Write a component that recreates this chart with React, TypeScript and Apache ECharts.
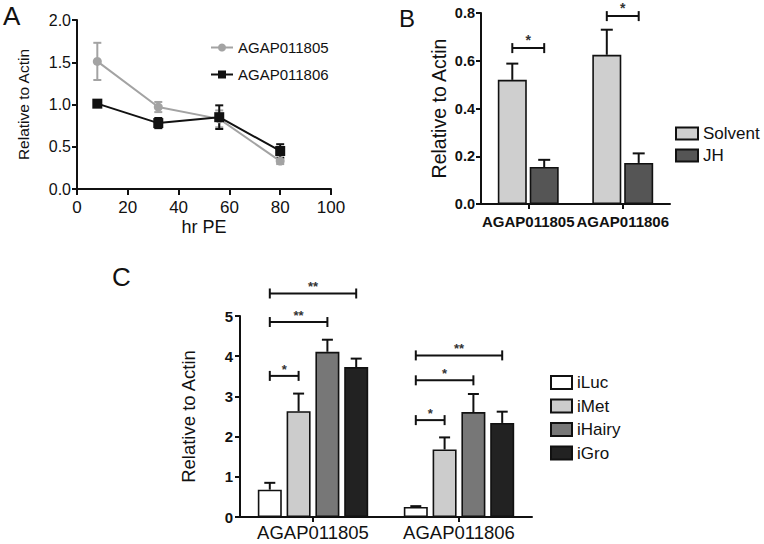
import React, { useEffect, useRef } from 'react';
import * as echarts from 'echarts';

const FONT = '"Liberation Sans", Arial, Helvetica, sans-serif';
const INK = '#111111';

// ---------- Panel A : time course ----------
const A_HOURS = [8, 32, 56, 80];
const A_805 = [1.51, 0.97, 0.83, 0.33];
const A_805_ERR = [0.22, 0.06, 0.1, 0.035];
const A_806 = [1.01, 0.78, 0.85, 0.45];
const A_806_ERR = [0.02, 0.06, 0.14, 0.08];
const A_NAMES = ['AGAP011805', 'AGAP011806'];

// ---------- Panel B : solvent vs JH ----------
const B_GENES = ['AGAP011805', 'AGAP011806'];
const B_SOLVENT = [0.52, 0.625];
const B_SOLVENT_ERR = [0.068, 0.105];
const B_JH = [0.155, 0.172];
const B_JH_ERR = [0.03, 0.04];
const B_SIG: number[][] = [
  [0, 0, 1, 0.653],
  [1, 0, 1, 0.787],
];
const B_SIG_LABELS = ['*', '*'];

// ---------- Panel C : RNAi ----------
const C_GENES = ['AGAP011805', 'AGAP011806'];
const C_ILUC = [0.68, 0.25];
const C_ILUC_ERR = [0.17, 0.02];
const C_IMET = [2.63, 1.68];
const C_IMET_ERR = [0.44, 0.3];
const C_IHAIRY = [4.11, 2.61];
const C_IHAIRY_ERR = [0.3, 0.45];
const C_IGRO = [3.73, 2.34];
const C_IGRO_ERR = [0.21, 0.28];
const C_SIG: number[][] = [
  [0, 0, 1, 3.51],
  [0, 0, 2, 4.85],
  [0, 0, 3, 5.56],
  [1, 0, 1, 2.41],
  [1, 0, 2, 3.4],
  [1, 0, 3, 4.02],
];
const C_SIG_LABELS = ['*', '**', '**', '*', '*', '**'];

const B_BAR_W = 29;
const B_GAP = 0.1;
const C_BAR_W = 24;
const C_GAP = 0.2;

function ln(x1: number, y1: number, x2: number, y2: number, color: string, w = 2) {
  return { type: 'line', shape: { x1, y1, x2, y2 }, style: { stroke: color, lineWidth: w } };
}

function barErrRender(n: number, w: number, gap: number, cap: number) {
  return (params: any, api: any) => {
    const cat = api.value(0);
    const bi = api.value(1);
    const m = api.value(2);
    const e = api.value(3);
    const p0 = api.coord([cat, m]);
    const p1 = api.coord([cat, m + e]);
    const x = p0[0] + (bi - (n - 1) / 2) * w * (1 + gap);
    return {
      type: 'group',
      children: [ln(x, p0[1], x, p1[1], INK), ln(x - cap / 2, p1[1], x + cap / 2, p1[1], INK)],
    };
  };
}

function sigRender(n: number, w: number, gap: number, labels: string[], fontSize: number, lift: number) {
  return (params: any, api: any) => {
    const cat = api.value(0);
    const f = api.value(1);
    const t = api.value(2);
    const y = api.value(3);
    const p = api.coord([cat, y]);
    const step = w * (1 + gap);
    const x1 = p[0] + (f - (n - 1) / 2) * step;
    const x2 = p[0] + (t - (n - 1) / 2) * step;
    const yy = p[1];
    return {
      type: 'group',
      children: [
        ln(x1, yy, x2, yy, INK),
        ln(x1, yy - 5, x1, yy + 5, INK),
        ln(x2, yy - 5, x2, yy + 5, INK),
        {
          type: 'text',
          x: (x1 + x2) / 2,
          y: yy - lift,
          style: {
            text: labels[params.dataIndex],
            fill: '#333',
            font: `bold ${fontSize}px ${FONT}`,
            align: 'center',
            verticalAlign: 'bottom',
          },
        },
      ],
    };
  };
}

function errData(list: number[][][]) {
  const out: number[][] = [];
  list.forEach(([vals, errs], bi) => {
    vals.forEach((v, ci) => out.push([ci, bi, v, errs[ci]]));
  });
  return out;
}

export default function App() {
  const ref = useRef<HTMLDivElement>(null);

  useEffect(() => {
    if (!ref.current) return;
    const chart = echarts.init(ref.current, undefined, { renderer: 'svg' });

    const axisLineStyle = { lineStyle: { color: INK, width: 2 } };
    const tickStyle = { lineStyle: { color: INK, width: 2 } };

    const aLine = (vals: number[]) => A_HOURS.map((h, i) => [h, vals[i]]);
    const aErr: number[][] = [];
    A_HOURS.forEach((h, i) => aErr.push([h, A_805[i], A_805_ERR[i], 0]));
    A_HOURS.forEach((h, i) => aErr.push([h, A_806[i], A_806_ERR[i], 1]));
    const A_COLORS = ['#a3a3a3', '#111111'];

    const option: any = {
      animation: false,
      textStyle: { fontFamily: FONT, color: INK },
      grid: [
        { left: 77, top: 20, width: 254, height: 169 },
        { left: 481, top: 13, width: 189, height: 191 },
        { left: 240, top: 316, width: 292, height: 201 },
      ],
      xAxis: [
        {
          gridIndex: 0,
          type: 'value',
          min: 0,
          max: 100,
          interval: 20,
          name: 'hr PE',
          nameLocation: 'middle',
          nameGap: 29,
          nameTextStyle: { fontSize: 18, color: INK, fontFamily: FONT },
          axisLine: { show: true, ...axisLineStyle },
          axisTick: { show: true, length: 6, ...tickStyle },
          axisLabel: { fontSize: 17, color: INK, margin: 10, fontFamily: FONT },
          splitLine: { show: false },
        },
        {
          gridIndex: 1,
          type: 'category',
          data: B_GENES,
          axisLine: { show: true, ...axisLineStyle },
          axisTick: { show: true, alignWithLabel: true, length: 5, ...tickStyle },
          axisLabel: { fontSize: 15, fontWeight: 'bold', color: INK, margin: 10, interval: 0, fontFamily: FONT },
        },
        {
          gridIndex: 2,
          type: 'category',
          data: C_GENES,
          axisLine: { show: true, ...axisLineStyle },
          axisTick: { show: true, alignWithLabel: true, length: 5, ...tickStyle },
          axisLabel: { fontSize: 18.5, color: INK, margin: 6, interval: 0, fontFamily: FONT },
        },
      ],
      yAxis: [
        {
          gridIndex: 0,
          type: 'value',
          min: 0,
          max: 2,
          interval: 0.5,
          name: 'Relative to Actin',
          nameLocation: 'middle',
          nameGap: 46,
          nameTextStyle: { fontSize: 15.5, color: INK, fontFamily: FONT },
          axisLine: { show: true, ...axisLineStyle },
          axisTick: { show: true, length: 5, ...tickStyle },
          axisLabel: { fontSize: 16, color: INK, margin: 6, formatter: (v: number) => v.toFixed(1), fontFamily: FONT },
          splitLine: { show: false },
        },
        {
          gridIndex: 1,
          type: 'value',
          min: 0,
          max: 0.8,
          interval: 0.2,
          name: 'Relative to Actin',
          nameLocation: 'middle',
          nameGap: 32,
          nameTextStyle: { fontSize: 19.5, color: INK, fontFamily: FONT },
          axisLine: { show: true, ...axisLineStyle },
          axisTick: { show: true, length: 5, ...tickStyle },
          axisLabel: {
            fontSize: 14.5,
            fontWeight: 'bold',
            color: INK,
            margin: 6,
            formatter: (v: number) => v.toFixed(1),
            fontFamily: FONT,
          },
          splitLine: { show: false },
        },
        {
          gridIndex: 2,
          type: 'value',
          min: 0,
          max: 5,
          interval: 1,
          name: 'Relative to Actin',
          nameLocation: 'middle',
          nameGap: 42,
          nameTextStyle: { fontSize: 18.5, color: INK, fontFamily: FONT },
          axisLine: { show: true, ...axisLineStyle },
          axisTick: { show: true, length: 5, ...tickStyle },
          axisLabel: { fontSize: 15, fontWeight: 'bold', color: INK, margin: 7, fontFamily: FONT },
          splitLine: { show: false },
        },
      ],
      legend: [
        {
          data: A_NAMES,
          orient: 'vertical',
          left: 210,
          top: 40,
          padding: 0,
          itemWidth: 22,
          itemHeight: 10,
          itemGap: 12,
          itemTextGap: 6,
          textStyle: { fontSize: 15, color: INK, fontFamily: FONT },
        },
        {
          data: ['Solvent', 'JH'],
          orient: 'vertical',
          left: 675,
          top: 125,
          padding: 0,
          icon: 'rect',
          itemWidth: 22,
          itemHeight: 12,
          itemGap: 5,
          itemTextGap: 9,
          textStyle: { fontSize: 17, color: INK, fontFamily: FONT },
        },
        {
          data: ['iLuc', 'iMet', 'iHairy', 'iGro'],
          orient: 'vertical',
          left: 550,
          top: 374,
          padding: 0,
          icon: 'rect',
          itemWidth: 21,
          itemHeight: 13,
          itemGap: 6.5,
          itemTextGap: 9,
          textStyle: { fontSize: 17, color: INK, fontFamily: FONT },
        },
      ],
      graphic: [
        { type: 'text', x: 3, y: 3, style: { text: 'A', font: `26px ${FONT}`, fill: INK } },
        { type: 'text', x: 399, y: 6, style: { text: 'B', font: `24px ${FONT}`, fill: INK } },
        { type: 'text', x: 112, y: 264, style: { text: 'C', font: `26px ${FONT}`, fill: INK } },
      ],
      series: [
        {
          name: A_NAMES[0],
          type: 'line',
          xAxisIndex: 0,
          yAxisIndex: 0,
          data: aLine(A_805),
          symbol: 'circle',
          symbolSize: 9,
          lineStyle: { color: A_COLORS[0], width: 2 },
          itemStyle: { color: A_COLORS[0] },
          z: 3,
        },
        {
          name: A_NAMES[1],
          type: 'line',
          xAxisIndex: 0,
          yAxisIndex: 0,
          data: aLine(A_806),
          symbol: 'rect',
          symbolSize: 10,
          lineStyle: { color: A_COLORS[1], width: 2 },
          itemStyle: { color: A_COLORS[1] },
          z: 4,
        },
        {
          name: 'A error',
          type: 'custom',
          xAxisIndex: 0,
          yAxisIndex: 0,
          clip: false,
          z: 2,
          encode: { x: 0, y: 1 },
          data: aErr,
          renderItem: (params: any, api: any) => {
            const x = api.value(0);
            const m = api.value(1);
            const e = api.value(2);
            const s = api.value(3);
            const c = A_COLORS[s];
            const top = api.coord([x, m + e]);
            const bot = api.coord([x, m - e]);
            const cap = 8;
            return {
              type: 'group',
              children: [
                ln(top[0], top[1], bot[0], bot[1], c),
                ln(top[0] - cap / 2, top[1], top[0] + cap / 2, top[1], c),
                ln(bot[0] - cap / 2, bot[1], bot[0] + cap / 2, bot[1], c),
              ],
            };
          },
        },
        {
          name: 'Solvent',
          type: 'bar',
          xAxisIndex: 1,
          yAxisIndex: 1,
          data: B_SOLVENT,
          barWidth: B_BAR_W,
          barGap: `${B_GAP * 100}%`,
          itemStyle: { color: '#cfcfcf', borderColor: INK, borderWidth: 1.6 },
        },
        {
          name: 'JH',
          type: 'bar',
          xAxisIndex: 1,
          yAxisIndex: 1,
          data: B_JH,
          barWidth: B_BAR_W,
          barGap: `${B_GAP * 100}%`,
          itemStyle: { color: '#555555', borderColor: INK, borderWidth: 1.6 },
        },
        {
          name: 'B error',
          type: 'custom',
          xAxisIndex: 1,
          yAxisIndex: 1,
          clip: false,
          z: 3,
          encode: { x: 0, y: 2 },
          data: errData([
            [B_SOLVENT, B_SOLVENT_ERR],
            [B_JH, B_JH_ERR],
          ]),
          renderItem: barErrRender(2, B_BAR_W, B_GAP, 12),
        },
        {
          name: 'B sig',
          type: 'custom',
          xAxisIndex: 1,
          yAxisIndex: 1,
          clip: false,
          z: 3,
          encode: { x: 0, y: 3 },
          data: B_SIG,
          renderItem: sigRender(2, B_BAR_W, B_GAP, B_SIG_LABELS, 14, 1),
        },
        ...[
          ['iLuc', C_ILUC, '#ffffff'],
          ['iMet', C_IMET, '#cccccc'],
          ['iHairy', C_IHAIRY, '#777777'],
          ['iGro', C_IGRO, '#222222'],
        ].map(([name, vals, color]: any) => ({
          name,
          type: 'bar',
          xAxisIndex: 2,
          yAxisIndex: 2,
          data: vals,
          barWidth: C_BAR_W,
          barGap: `${C_GAP * 100}%`,
          itemStyle: { color, borderColor: INK, borderWidth: 1.6 },
        })),
        {
          name: 'C error',
          type: 'custom',
          xAxisIndex: 2,
          yAxisIndex: 2,
          clip: false,
          z: 3,
          encode: { x: 0, y: 2 },
          data: errData([
            [C_ILUC, C_ILUC_ERR],
            [C_IMET, C_IMET_ERR],
            [C_IHAIRY, C_IHAIRY_ERR],
            [C_IGRO, C_IGRO_ERR],
          ]),
          renderItem: barErrRender(4, C_BAR_W, C_GAP, 11),
        },
        {
          name: 'C sig',
          type: 'custom',
          xAxisIndex: 2,
          yAxisIndex: 2,
          clip: false,
          z: 3,
          encode: { x: 0, y: 3 },
          data: C_SIG,
          renderItem: sigRender(4, C_BAR_W, C_GAP, C_SIG_LABELS, 13, 0),
        },
      ],
    };

    chart.setOption(option);
    return () => chart.dispose();
  }, []);

  return (
    <div
      ref={ref}
      style={{ position: 'fixed', left: 0, top: 0, width: 764, height: 544, background: '#ffffff' }}
    />
  );
}
